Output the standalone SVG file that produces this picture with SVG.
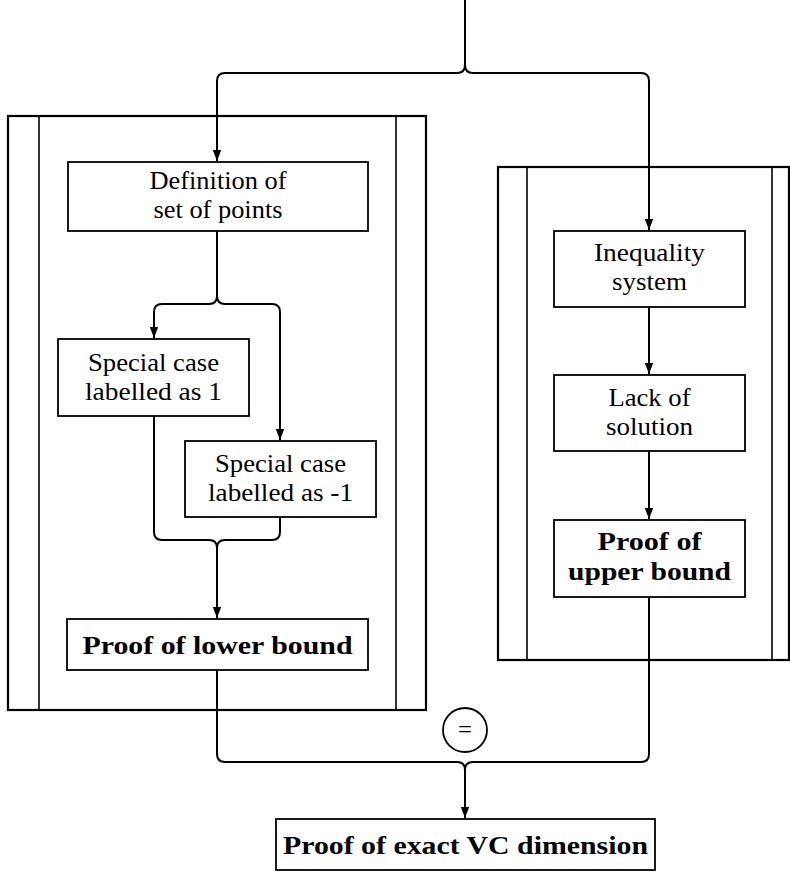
<svg xmlns="http://www.w3.org/2000/svg" width="790" height="891" viewBox="0 0 790 891">
<style>
.frame{fill:none;stroke:#000;stroke-width:2.2}
.inner{fill:none;stroke:#000;stroke-width:1.6}
.box{fill:#fff;stroke:#000;stroke-width:1.8}
.conn{fill:none;stroke:#000;stroke-width:2}
text{font-family:"Liberation Serif","Times New Roman","DejaVu Serif",serif;font-size:25px;text-anchor:middle;fill:#000}
.b{font-weight:bold}
</style>
<defs>
<marker id="arr" markerUnits="userSpaceOnUse" markerWidth="12" markerHeight="12" viewBox="0 0 12 12" refX="11" refY="6" orient="auto">
<path d="M0,1.8 L11,6 L0,10.2 Z" fill="#000"/>
</marker>
</defs>
<rect width="790" height="891" fill="#fff"/>
<g id="left-group">
<rect class="frame" x="8" y="116" width="418" height="594"/>
<line class="inner" x1="39" y1="116" x2="39" y2="710"/>
<line class="inner" x1="396" y1="116" x2="396" y2="710"/>
</g>
<g id="right-group">
<rect class="frame" x="498" y="167" width="291" height="493"/>
<line class="inner" x1="527" y1="167" x2="527" y2="660"/>
<line class="inner" x1="772" y1="167" x2="772" y2="660"/>
</g>
<g id="connectors">
<path class="conn" d="M465,0 V65 Q465,73 457,73 H225 Q217,73 217,81 V161" marker-end="url(#arr)"/>
<path class="conn" d="M465,65 Q465,73 473,73 H641 Q649,73 649,81 V230" marker-end="url(#arr)"/>
<path class="conn" d="M217,231 V296 Q217,304 209,304 H162 Q154,304 154,312 V338" marker-end="url(#arr)"/>
<path class="conn" d="M217,296 Q217,304 225,304 H272 Q280,304 280,312 V440" marker-end="url(#arr)"/>
<path class="conn" d="M154,416 V532 Q154,540 162,540 H209 Q217,540 217,548 V618" marker-end="url(#arr)"/>
<path class="conn" d="M280,517 V532 Q280,540 272,540 H225 Q217,540 217,548"/>
<path class="conn" d="M649,307 V374" marker-end="url(#arr)"/>
<path class="conn" d="M649,451 V519" marker-end="url(#arr)"/>
<path class="conn" d="M217,670 V754 Q217,762 225,762 H457 Q465,762 465,770 V818" marker-end="url(#arr)"/>
<path class="conn" d="M649,597 V754 Q649,762 641,762 H473 Q465,762 465,770"/>
</g>
<g id="eq">
<circle cx="465" cy="730" r="22" fill="#fff" stroke="#000" stroke-width="1.8"/>
<text x="465" y="738">=</text>
</g>
<g id="n-def">
<rect class="box" x="68" y="162" width="300" height="69"/>
<text x="218" y="189" textLength="137" lengthAdjust="spacingAndGlyphs">Definition of</text>
<text x="218" y="218" textLength="129" lengthAdjust="spacingAndGlyphs">set of points</text>
</g>
<g id="n-sp1">
<rect class="box" x="58" y="339" width="191" height="77"/>
<text x="153.5" y="371" textLength="131" lengthAdjust="spacingAndGlyphs">Special case</text>
<text x="153.5" y="400" textLength="137" lengthAdjust="spacingAndGlyphs">labelled as 1</text>
</g>
<g id="n-sp2">
<rect class="box" x="185" y="441" width="191" height="76"/>
<text x="280.5" y="472" textLength="131" lengthAdjust="spacingAndGlyphs">Special case</text>
<text x="280.5" y="501" textLength="145" lengthAdjust="spacingAndGlyphs">labelled as -1</text>
</g>
<g id="n-lower">
<rect class="box" x="67" y="619" width="301" height="51"/>
<text class="b" x="217.5" y="654" textLength="270" lengthAdjust="spacingAndGlyphs">Proof of lower bound</text>
</g>
<g id="n-ineq">
<rect class="box" x="554" y="231" width="191" height="76"/>
<text x="649.5" y="261" textLength="111" lengthAdjust="spacingAndGlyphs">Inequality</text>
<text x="649.5" y="290" textLength="75" lengthAdjust="spacingAndGlyphs">system</text>
</g>
<g id="n-lack">
<rect class="box" x="554" y="375" width="191" height="76"/>
<text x="649.5" y="406" textLength="82" lengthAdjust="spacingAndGlyphs">Lack of</text>
<text x="649.5" y="435" textLength="87" lengthAdjust="spacingAndGlyphs">solution</text>
</g>
<g id="n-upper">
<rect class="box" x="554" y="520" width="191" height="77"/>
<text class="b" x="649.5" y="550" textLength="104" lengthAdjust="spacingAndGlyphs">Proof of</text>
<text class="b" x="649.5" y="580" textLength="163" lengthAdjust="spacingAndGlyphs">upper bound</text>
</g>
<g id="n-exact">
<rect class="box" x="276" y="819" width="379" height="51"/>
<text class="b" x="465.5" y="854" textLength="365" lengthAdjust="spacingAndGlyphs">Proof of exact VC dimension</text>
</g>
</svg>
